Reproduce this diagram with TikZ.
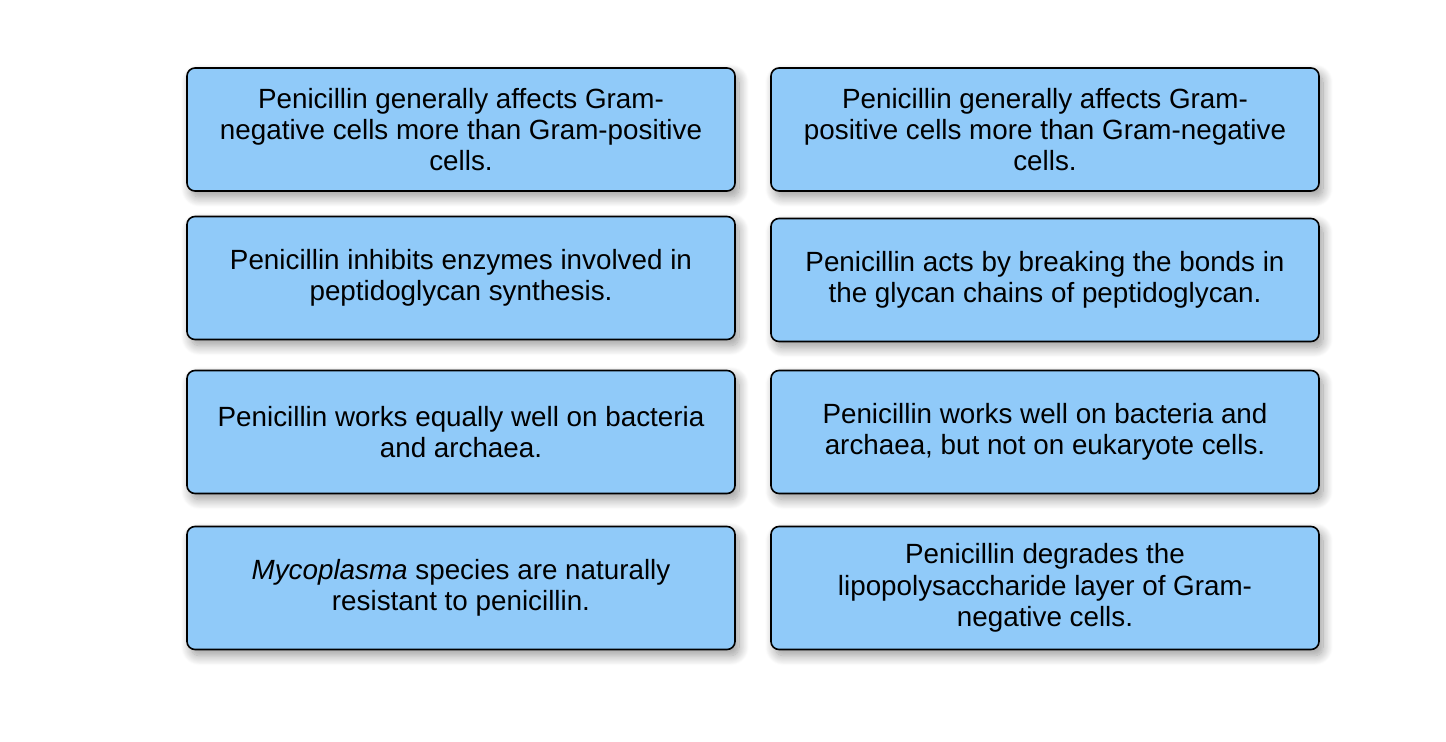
\documentclass[tikz,border=0pt]{standalone}
\usepackage{fontspec}
\setmainfont{Liberation Sans}
\usetikzlibrary{shadows.blur}
\definecolor{cardblue}{HTML}{90CAF9}
\tikzset{card/.style={draw=black, line width=0.8pt, fill=cardblue, rounded corners=4pt,
    minimum width=274pt, minimum height=61.5pt, align=center, inner sep=0pt,
    font=\fontsize{13.9}{15.6}\selectfont,
    blur shadow={shadow xshift=2pt, shadow yshift=-3pt, shadow blur steps=12, shadow blur radius=5pt, shadow opacity=40}}}

\begin{document}
\begin{tikzpicture}[x=0.5pt, y=-0.5pt]
    \useasboundingbox (0,0) rectangle (1446,742);
	\node [card] (gramneg) at (461,129.5) {Penicillin generally affects Gram-\\negative cells more than Gram-positive\\cells.};
	\node [card] (grampos) at (1045,129.5) {Penicillin generally affects Gram-\\positive cells more than Gram-negative\\cells.};
	\node [card] (enzymes) at (461,278) {Penicillin inhibits enzymes involved in\\peptidoglycan synthesis.};
	\node [card] (glycan) at (1045,280) {Penicillin acts by breaking the bonds in\\the glycan chains of peptidoglycan.};
	\node [card] (archaea) at (461,432) {Penicillin works equally well on bacteria\\and archaea.};
	\node [card] (eukaryote) at (1045,432) {Penicillin works well on bacteria and\\archaea, but not on eukaryote cells.};
	\node [card] (mycoplasma) at (461,588) {\textit{Mycoplasma} species are naturally\\resistant to penicillin.};
	\node [card] (lps) at (1045,588) {Penicillin degrades the\\lipopolysaccharide layer of Gram-\\negative cells.};
\end{tikzpicture}
\end{document}
